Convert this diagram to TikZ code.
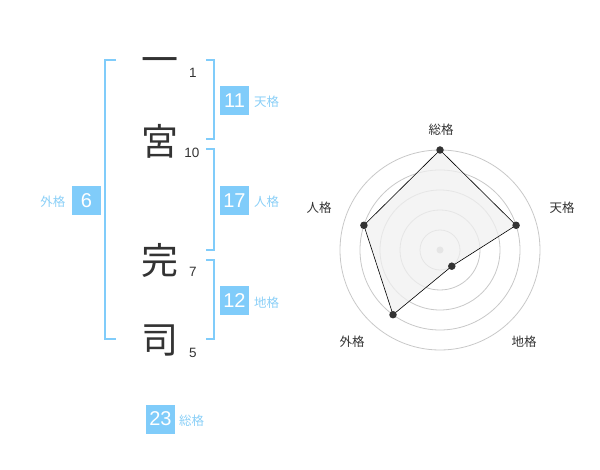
\documentclass[tikz,border=0pt]{standalone}
\usepackage{fontspec}
\usetikzlibrary{calc}
\setmainfont{Liberation Sans}
\newfontfamily\jp{Noto Sans CJK JP}
\definecolor{kblue}{HTML}{80CCFA}
\definecolor{klab}{HTML}{8ACFF7}
\definecolor{kdark}{HTML}{333333}
\definecolor{kring}{HTML}{C8C8C8}
\begin{document}
\begin{tikzpicture}[x=1pt,y=-1pt,
  kanji/.style={font=\jp\fontsize{37}{37}\selectfont,text=kdark,inner sep=0pt},
  strokes/.style={font=\fontsize{13.5}{13.5}\selectfont,text=kdark,inner sep=0pt},
  valbox/.style={fill=kblue,text=white,minimum width=29pt,minimum height=29pt,inner sep=0pt,font=\fontsize{20}{20}\selectfont},
  vallab/.style={text=klab,font=\jp\fontsize{12.5}{12.5}\selectfont,inner sep=0pt},
  brk/.style={draw=kblue,line width=2pt},
  ring/.style={draw=kring,line width=0.8pt},
  axlab/.style={text=kdark,font=\jp\fontsize{12.5}{12.5}\selectfont,inner sep=0pt},
  dot/.style={circle,fill=kdark,inner sep=0pt,minimum size=7.5pt}]
\useasboundingbox (0,0) rectangle (600,470);
% characters
\node[kanji] (c1) at (160,66) {一};
\node[kanji] (c2) at (160,141) {宮};
\node[kanji] (c3) at (160,260) {完};
\node[kanji] (c4) at (160,340) {司};
\node[strokes] (s1) at (193,73) {1};
\node[strokes] (s2) at (192,153) {10};
\node[strokes] (s3) at (193,272) {7};
\node[strokes] (s4) at (193,353) {5};
% brackets
\draw[brk] (116,60) -- (105,60) -- (105,339) -- (116,339);
\draw[brk] (206,60) -- (214,60) -- (214,139) -- (206,139);
\draw[brk] (206,149) -- (214,149) -- (214,250) -- (206,250);
\draw[brk] (206,260) -- (214,260) -- (214,339) -- (206,339);
% value boxes
\node[valbox] (b11) at (234.5,100.5) {11};
\node[vallab,anchor=west] (l11) at (254,102) {天格};
\node[valbox] (b17) at (234.5,200.5) {17};
\node[vallab,anchor=west] (l17) at (254,202) {人格};
\node[valbox] (b12) at (234.5,301) {12};
\node[vallab,anchor=west] (l12) at (254,303) {地格};
\node[valbox] (b6) at (86.5,200.5) {6};
\node[vallab,anchor=east] (l6) at (65.5,202) {外格};
\node[valbox] (b23) at (160.5,419) {23};
\node[vallab,anchor=west] (l23) at (179,421) {総格};
% radar
\coordinate (ctr) at (440,250);
\foreach \r in {20,40,60,80,100} \draw[ring] (ctr) circle (\r);
\fill[kring] (ctr) circle (3.5);
\coordinate (p1) at ($(ctr)+(0,-100)$);
\coordinate (p2) at ($(ctr)+(76.1,-24.7)$);
\coordinate (p3) at ($(ctr)+(11.8,16.2)$);
\coordinate (p4) at ($(ctr)+(-47,64.7)$);
\coordinate (p5) at ($(ctr)+(-76.1,-24.7)$);
\filldraw[fill=black!6,fill opacity=0.75,draw=black,line width=0.6pt] (p1) -- (p2) -- (p3) -- (p4) -- (p5) -- cycle;
\foreach \p in {p1,p2,p3,p4,p5} \node[dot] at (\p) {};
\node[axlab] (a1) at (441,130) {総格};
\node[axlab] (a2) at (562,208) {天格};
\node[axlab] (a3) at (524,342) {地格};
\node[axlab] (a4) at (352,342) {外格};
\node[axlab] (a5) at (319,208) {人格};
\end{tikzpicture}
\end{document}
